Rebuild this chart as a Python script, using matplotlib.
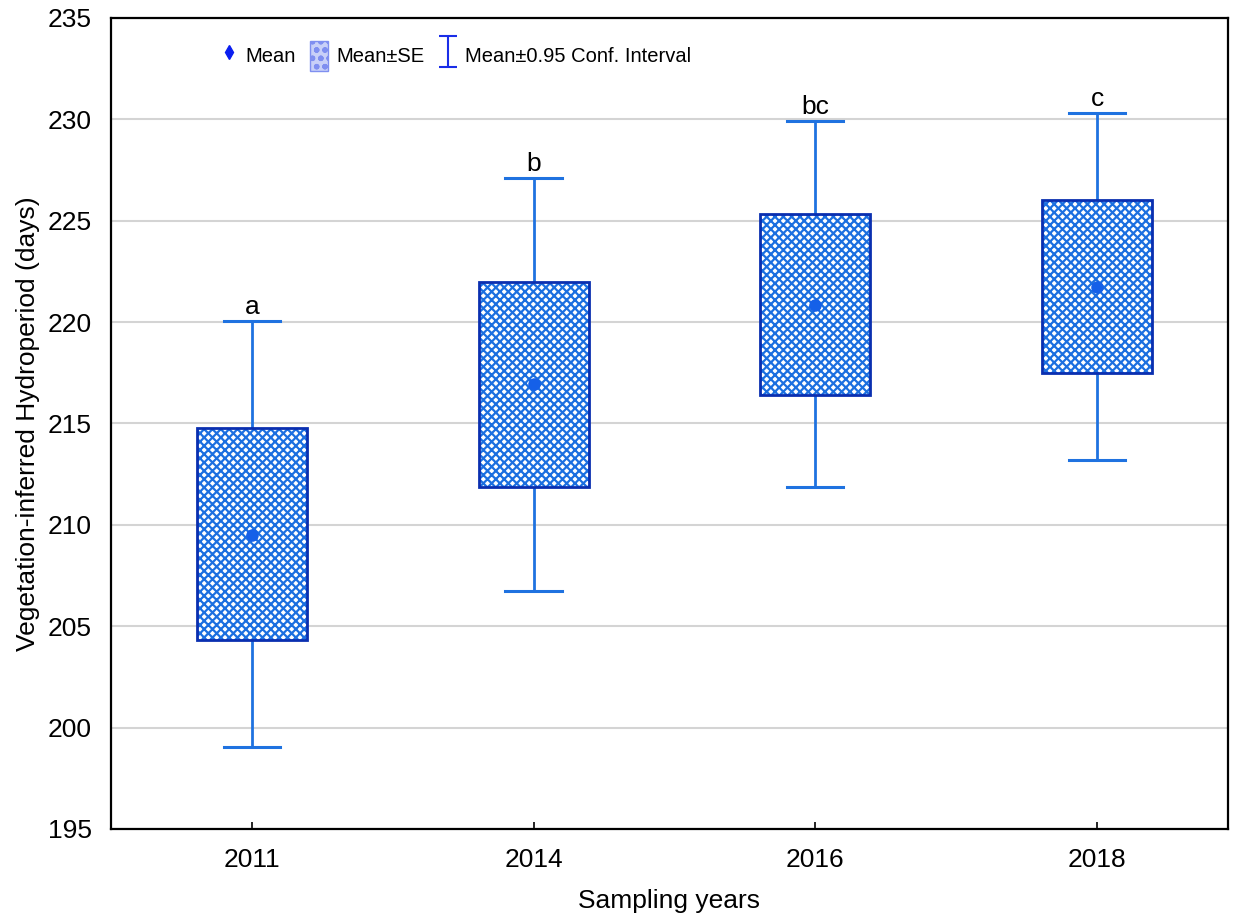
import matplotlib.pyplot as plt
from matplotlib.container import ErrorbarContainer
from matplotlib.legend_handler import HandlerErrorbar
from matplotlib.lines import Line2D
from matplotlib.patches import Patch, Rectangle

# values
years = ["2011", "2014", "2016", "2018"]
means = [209.5, 216.95, 220.85, 221.75]
se_low = [204.3, 211.85, 216.4, 217.5]
se_high = [214.8, 222.0, 225.35, 226.0]
ci_low = [199.05, 206.75, 211.85, 213.2]
ci_high = [220.05, 227.1, 229.9, 230.3]
letters = ["a", "b", "bc", "c"]

plt.rcParams["font.family"] = ["Liberation Sans", "DejaVu Sans"]
plt.rcParams["hatch.linewidth"] = 1.6

hatch_col = "#1b6fe0"
edge_col = "#0a2fb0"
whisk_col = "#1f72e0"
mean_col = "#1560e8"

fig = plt.figure(figsize=(12.36, 9.17), dpi=100)
ax = fig.add_axes([111 / 1236, 1 - 829 / 917, (1228 - 111) / 1236, (829 - 18) / 917])

box_w = 0.39
cap_w = 0.2
for i in range(len(years)):
    ax.plot([i, i], [ci_low[i], se_low[i]], color=whisk_col, lw=2, zorder=2)
    ax.plot([i, i], [se_high[i], ci_high[i]], color=whisk_col, lw=2, zorder=2)
    for yv in (ci_low[i], ci_high[i]):
        ax.plot([i - cap_w / 2, i + cap_w / 2], [yv, yv], color=whisk_col, lw=2.2, zorder=2)
    h = se_high[i] - se_low[i]
    ax.add_patch(Rectangle((i - box_w / 2, se_low[i]), box_w, h, facecolor="white",
                           edgecolor=hatch_col, hatch="xxxx", lw=0, zorder=3))
    ax.add_patch(Rectangle((i - box_w / 2, se_low[i]), box_w, h, facecolor="none",
                           edgecolor=edge_col, lw=2, zorder=4))
    ax.plot(i, means[i], "o", color=mean_col, ms=8, zorder=5)
    ax.text(i, ci_high[i] + 0.1, letters[i], ha="center", va="bottom", fontsize=19)

ax.set_xlim(-0.5, 3.465)
ax.set_ylim(195, 235)
ax.set_xticks(range(len(years)))
ax.set_xticklabels(years)
ax.set_yticks(range(195, 236, 5))
ax.tick_params(direction="in", labelsize=19, length=5, width=1.2, pad=14)
ax.tick_params(axis="y", length=0, pad=14)
ax.yaxis.grid(True, color="#d4d4d4", lw=1.5)
ax.set_axisbelow(True)
for s in ax.spines.values():
    s.set_linewidth(1.6)

ax.set_xlabel("Sampling years", fontsize=19, labelpad=12)
ax.set_ylabel("Vegetation-inferred Hydroperiod (days)", fontsize=19, labelpad=5)

# legend
h_mean = Line2D([], [], marker="d", ls="none", color="#0a1ef0", ms=7.5)
h_se = Patch(facecolor="#c8d0f8", edgecolor="#7f8ff0", hatch="oo", lw=1)
h_ci = ax.errorbar([-10], [215], yerr=[1], fmt="none", ecolor="#1a2ee8",
                   capsize=6.5, elinewidth=1.5, capthick=1.5)
ax.legend([h_mean, h_se, h_ci], ["Mean", "Mean±SE", "Mean±0.95 Conf. Interval"],
          loc="upper left", bbox_to_anchor=(0.081, 0.994), ncol=3, frameon=False,
          handlelength=0.9, handleheight=1.9, handletextpad=0.4, columnspacing=0.7,
          handler_map={ErrorbarContainer: HandlerErrorbar(xerr_size=0.5, yerr_size=0.78)},
          prop={"family": ["Liberation Sans Narrow", "Liberation Sans"], "size": 14.5})

fig.savefig("out.png", dpi=100)
